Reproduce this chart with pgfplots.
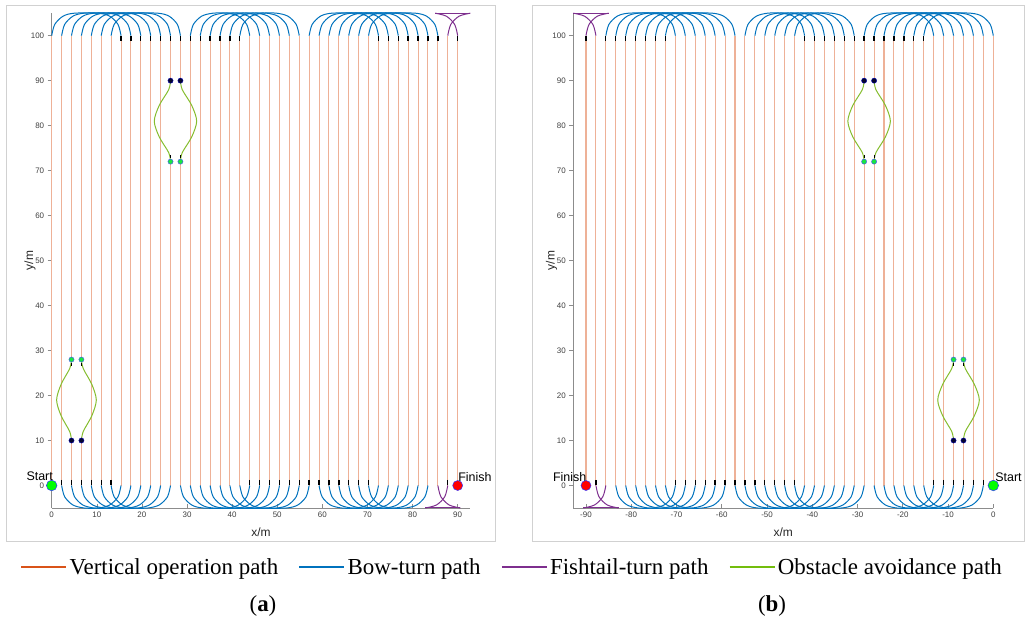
\documentclass[border=0pt]{standalone}
\usepackage{fontspec}
\setmainfont{Liberation Sans}
\newfontfamily\serifL{Liberation Serif}
\usepackage{pgfplots}
\pgfplotsset{compat=1.18}
\usetikzlibrary{plotmarks}
\definecolor{vop}{rgb}{0.85,0.325,0.098}
\definecolor{bow}{rgb}{0,0.447,0.741}
\definecolor{fish}{rgb}{0.494,0.184,0.556}
\definecolor{obs}{rgb}{0.52,0.74,0.18}
\definecolor{obsleg}{rgb}{0.45,0.74,0.05}
\definecolor{darkdot}{rgb}{0.02,0.02,0.18}
\definecolor{greendot}{rgb}{0.1,0.9,0.25}
\pgfplotsset{
  panel/.style={
    scale only axis, height=494.8bp,
    ymin=-5, ymax=105, clip=false,
    axis x line*=bottom, axis y line*=left,
    axis line style={black!45, line width=0.7bp, -},
    ytick={0,10,...,100},
    xtick align=inside, ytick align=outside,
    major tick length=4bp,
    tick style={black!45, line width=0.6bp},
    tick label style={font=\fontsize{8}{9}\selectfont, text=black!75},
    /pgf/number format/assume math mode=true,
    label style={font=\fontsize{12}{14}\selectfont, text=black!85},
    xlabel style={at={(axis description cs:0.5,-0.049)}, anchor=center},
    ylabel style={at={(axis description cs:-0.052,0.5)}, anchor=center, rotate=0},
    xlabel={x/m}, ylabel={y/m},
  },
  vl/.style={vop!45!white, line width=1.05bp, forget plot},
  bowarc/.style={bow, line width=1bp, smooth, forget plot},
  fishp/.style={fish, line width=1bp, smooth, forget plot},
  obsp/.style={obs, line width=1bp, smooth, forget plot},
  exitm/.style={only marks, mark=|, mark size=2.6bp, mark options={black, line width=1.3bp}, forget plot},
  obsm/.style={only marks, mark=|, mark size=1.8bp, mark options={black, line width=1.2bp}, forget plot},
  dd/.style={only marks, mark=*, mark size=2.6bp, mark options={fill=darkdot, draw=blue!70!black, line width=0.4bp}, forget plot},
  gd/.style={only marks, mark=*, mark size=2.6bp, mark options={fill=greendot, draw=blue!70, line width=0.4bp}, forget plot},
  startd/.style={only marks, mark=*, mark size=5.3bp, mark options={fill=green, draw=blue!80, line width=0.5bp}, forget plot},
  finishd/.style={only marks, mark=*, mark size=5bp, mark options={fill=red, draw=blue!80, line width=0.5bp}, forget plot},
}
\begin{document}
\begin{tikzpicture}
\useasboundingbox (0,0) rectangle (1029bp,625bp);
\draw[black!18, line width=0.8bp] (6bp,84bp) rectangle (495bp,620bp);
\draw[black!18, line width=0.8bp] (532.7bp,84bp) rectangle (1024bp,620bp);

% ---------------- panel (a)
\begin{axis}[panel, at={(51.7bp,117bp)}, anchor=south west, width=418.6bp,
  xmin=0, xmax=92.8, xtick={0,10,...,90},
  legend columns=4,
  legend image code/.code={\draw[#1] (0bp,0bp) -- (45bp,0bp);},
  legend style={at={(1.0996,-0.1192)}, anchor=center, draw=none, fill=none,
    font=\serifL\fontsize{23}{27}\selectfont,
    /tikz/every even column/.append style={column sep=18bp}},
  legend cell align=left]
\addlegendimage{vop, line width=2.4bp}\addlegendentry{Vertical operation path}
\addlegendimage{bow, line width=2.4bp}\addlegendentry{Bow-turn path}
\addlegendimage{fish, line width=2.4bp}\addlegendentry{Fishtail-turn path}
\addlegendimage{obsleg, line width=2.4bp}\addlegendentry{Obstacle avoidance path}
% vertical operation lines
\addplot[vl] coordinates {(0,0)(0,100)};
\addplot[vl] coordinates {(2.2,0)(2.2,100)};
\addplot[vl] coordinates {(4.39,0)(4.39,10)};
\addplot[vl] coordinates {(4.39,28)(4.39,100)};
\addplot[vl] coordinates {(6.59,0)(6.59,10)};
\addplot[vl] coordinates {(6.59,28)(6.59,100)};
\addplot[vl] coordinates {(8.78,0)(8.78,100)};
\addplot[vl] coordinates {(10.98,0)(10.98,100)};
\addplot[vl] coordinates {(13.17,0)(13.17,100)};
\addplot[vl] coordinates {(15.37,0)(15.37,100)};
\addplot[vl] coordinates {(17.56,0)(17.56,100)};
\addplot[vl] coordinates {(19.76,0)(19.76,100)};
\addplot[vl] coordinates {(21.95,0)(21.95,100)};
\addplot[vl] coordinates {(24.15,0)(24.15,100)};
\addplot[vl] coordinates {(26.34,0)(26.34,72)};
\addplot[vl] coordinates {(26.34,90)(26.34,100)};
\addplot[vl] coordinates {(28.54,0)(28.54,72)};
\addplot[vl] coordinates {(28.54,90)(28.54,100)};
\addplot[vl] coordinates {(30.73,0)(30.73,100)};
\addplot[vl] coordinates {(32.93,0)(32.93,100)};
\addplot[vl] coordinates {(35.12,0)(35.12,100)};
\addplot[vl] coordinates {(37.32,0)(37.32,100)};
\addplot[vl] coordinates {(39.51,0)(39.51,100)};
\addplot[vl] coordinates {(41.71,0)(41.71,100)};
\addplot[vl] coordinates {(43.9,0)(43.9,100)};
\addplot[vl] coordinates {(46.1,0)(46.1,100)};
\addplot[vl] coordinates {(48.29,0)(48.29,100)};
\addplot[vl] coordinates {(50.49,0)(50.49,100)};
\addplot[vl] coordinates {(52.68,0)(52.68,100)};
\addplot[vl] coordinates {(54.88,0)(54.88,100)};
\addplot[vl] coordinates {(57.07,0)(57.07,100)};
\addplot[vl] coordinates {(59.27,0)(59.27,100)};
\addplot[vl] coordinates {(61.46,0)(61.46,100)};
\addplot[vl] coordinates {(63.66,0)(63.66,100)};
\addplot[vl] coordinates {(65.85,0)(65.85,100)};
\addplot[vl] coordinates {(68.05,0)(68.05,100)};
\addplot[vl] coordinates {(70.24,0)(70.24,100)};
\addplot[vl] coordinates {(72.44,0)(72.44,100)};
\addplot[vl] coordinates {(74.63,0)(74.63,100)};
\addplot[vl] coordinates {(76.83,0)(76.83,100)};
\addplot[vl] coordinates {(79.02,0)(79.02,100)};
\addplot[vl] coordinates {(81.22,0)(81.22,100)};
\addplot[vl] coordinates {(83.41,0)(83.41,100)};
\addplot[vl] coordinates {(85.61,0)(85.61,100)};
\addplot[vl] coordinates {(87.8,0)(87.8,100)};
\addplot[vl] coordinates {(90,0)(90,100)};
% top bow turns
\addplot[bowarc] coordinates {(0,100)(0.67,102.5)(2.5,104.33)(5,105)(10.37,105)(12.87,104.33)(14.7,102.5)(15.37,100)};
\addplot[bowarc] coordinates {(2.2,100)(2.87,102.5)(4.7,104.33)(7.2,105)(12.56,105)(15.06,104.33)(16.89,102.5)(17.56,100)};
\addplot[bowarc] coordinates {(4.39,100)(5.06,102.5)(6.89,104.33)(9.39,105)(14.76,105)(17.26,104.33)(19.09,102.5)(19.76,100)};
\addplot[bowarc] coordinates {(6.59,100)(7.26,102.5)(9.09,104.33)(11.59,105)(16.95,105)(19.45,104.33)(21.28,102.5)(21.95,100)};
\addplot[bowarc] coordinates {(8.78,100)(9.45,102.5)(11.28,104.33)(13.78,105)(19.15,105)(21.65,104.33)(23.48,102.5)(24.15,100)};
\addplot[bowarc] coordinates {(10.98,100)(11.65,102.5)(13.48,104.33)(15.98,105)(21.34,105)(23.84,104.33)(25.67,102.5)(26.34,100)};
\addplot[bowarc] coordinates {(13.17,100)(13.84,102.5)(15.67,104.33)(18.17,105)(23.54,105)(26.04,104.33)(27.87,102.5)(28.54,100)};
\addplot[bowarc] coordinates {(30.73,100)(31.4,102.5)(33.23,104.33)(35.73,105)(38.9,105)(41.4,104.33)(43.23,102.5)(43.9,100)};
\addplot[bowarc] coordinates {(32.93,100)(33.6,102.5)(35.43,104.33)(37.93,105)(41.1,105)(43.6,104.33)(45.43,102.5)(46.1,100)};
\addplot[bowarc] coordinates {(35.12,100)(35.79,102.5)(37.62,104.33)(40.12,105)(43.29,105)(45.79,104.33)(47.62,102.5)(48.29,100)};
\addplot[bowarc] coordinates {(37.32,100)(37.99,102.5)(39.82,104.33)(42.32,105)(45.49,105)(47.99,104.33)(49.82,102.5)(50.49,100)};
\addplot[bowarc] coordinates {(39.51,100)(40.18,102.5)(42.01,104.33)(44.51,105)(47.68,105)(50.18,104.33)(52.01,102.5)(52.68,100)};
\addplot[bowarc] coordinates {(41.71,100)(42.38,102.5)(44.21,104.33)(46.71,105)(49.88,105)(52.38,104.33)(54.21,102.5)(54.88,100)};
\addplot[bowarc] coordinates {(57.07,100)(57.74,102.5)(59.57,104.33)(62.07,105)(67.44,105)(69.94,104.33)(71.77,102.5)(72.44,100)};
\addplot[bowarc] coordinates {(59.27,100)(59.94,102.5)(61.77,104.33)(64.27,105)(69.63,105)(72.13,104.33)(73.96,102.5)(74.63,100)};
\addplot[bowarc] coordinates {(61.46,100)(62.13,102.5)(63.96,104.33)(66.46,105)(71.83,105)(74.33,104.33)(76.16,102.5)(76.83,100)};
\addplot[bowarc] coordinates {(63.66,100)(64.33,102.5)(66.16,104.33)(68.66,105)(74.02,105)(76.52,104.33)(78.35,102.5)(79.02,100)};
\addplot[bowarc] coordinates {(65.85,100)(66.52,102.5)(68.35,104.33)(70.85,105)(76.22,105)(78.72,104.33)(80.55,102.5)(81.22,100)};
\addplot[bowarc] coordinates {(68.05,100)(68.72,102.5)(70.55,104.33)(73.05,105)(78.41,105)(80.91,104.33)(82.74,102.5)(83.41,100)};
\addplot[bowarc] coordinates {(70.24,100)(70.91,102.5)(72.74,104.33)(75.24,105)(80.61,105)(83.11,104.33)(84.94,102.5)(85.61,100)};
% bottom bow turns
\addplot[bowarc] coordinates {(2.2,0)(2.87,-2.5)(4.7,-4.33)(7.2,-5)(10.37,-5)(12.87,-4.33)(14.7,-2.5)(15.37,0)};
\addplot[bowarc] coordinates {(4.39,0)(5.06,-2.5)(6.89,-4.33)(9.39,-5)(12.56,-5)(15.06,-4.33)(16.89,-2.5)(17.56,0)};
\addplot[bowarc] coordinates {(6.59,0)(7.26,-2.5)(9.09,-4.33)(11.59,-5)(14.76,-5)(17.26,-4.33)(19.09,-2.5)(19.76,0)};
\addplot[bowarc] coordinates {(8.78,0)(9.45,-2.5)(11.28,-4.33)(13.78,-5)(16.95,-5)(19.45,-4.33)(21.28,-2.5)(21.95,0)};
\addplot[bowarc] coordinates {(10.98,0)(11.65,-2.5)(13.48,-4.33)(15.98,-5)(19.15,-5)(21.65,-4.33)(23.48,-2.5)(24.15,0)};
\addplot[bowarc] coordinates {(13.17,0)(13.84,-2.5)(15.67,-4.33)(18.17,-5)(21.34,-5)(23.84,-4.33)(25.67,-2.5)(26.34,0)};
\addplot[bowarc] coordinates {(28.54,0)(29.21,-2.5)(31.04,-4.33)(33.54,-5)(38.9,-5)(41.4,-4.33)(43.23,-2.5)(43.9,0)};
\addplot[bowarc] coordinates {(30.73,0)(31.4,-2.5)(33.23,-4.33)(35.73,-5)(41.1,-5)(43.6,-4.33)(45.43,-2.5)(46.1,0)};
\addplot[bowarc] coordinates {(32.93,0)(33.6,-2.5)(35.43,-4.33)(37.93,-5)(43.29,-5)(45.79,-4.33)(47.62,-2.5)(48.29,0)};
\addplot[bowarc] coordinates {(35.12,0)(35.79,-2.5)(37.62,-4.33)(40.12,-5)(45.49,-5)(47.99,-4.33)(49.82,-2.5)(50.49,0)};
\addplot[bowarc] coordinates {(37.32,0)(37.99,-2.5)(39.82,-4.33)(42.32,-5)(47.68,-5)(50.18,-4.33)(52.01,-2.5)(52.68,0)};
\addplot[bowarc] coordinates {(39.51,0)(40.18,-2.5)(42.01,-4.33)(44.51,-5)(49.88,-5)(52.38,-4.33)(54.21,-2.5)(54.88,0)};
\addplot[bowarc] coordinates {(41.71,0)(42.38,-2.5)(44.21,-4.33)(46.71,-5)(52.07,-5)(54.57,-4.33)(56.4,-2.5)(57.07,0)};
\addplot[bowarc] coordinates {(59.27,0)(59.94,-2.5)(61.77,-4.33)(64.27,-5)(67.44,-5)(69.94,-4.33)(71.77,-2.5)(72.44,0)};
\addplot[bowarc] coordinates {(61.46,0)(62.13,-2.5)(63.96,-4.33)(66.46,-5)(69.63,-5)(72.13,-4.33)(73.96,-2.5)(74.63,0)};
\addplot[bowarc] coordinates {(63.66,0)(64.33,-2.5)(66.16,-4.33)(68.66,-5)(71.83,-5)(74.33,-4.33)(76.16,-2.5)(76.83,0)};
\addplot[bowarc] coordinates {(65.85,0)(66.52,-2.5)(68.35,-4.33)(70.85,-5)(74.02,-5)(76.52,-4.33)(78.35,-2.5)(79.02,0)};
\addplot[bowarc] coordinates {(68.05,0)(68.72,-2.5)(70.55,-4.33)(73.05,-5)(76.22,-5)(78.72,-4.33)(80.55,-2.5)(81.22,0)};
\addplot[bowarc] coordinates {(70.24,0)(70.91,-2.5)(72.74,-4.33)(75.24,-5)(78.41,-5)(80.91,-4.33)(82.74,-2.5)(83.41,0)};
% fishtail turns
\addplot[fishp] coordinates {(87.8,100)(88.47,102.5)(90.3,104.33)(92.8,105)};
\addplot[fishp] coordinates {(85,105)(87.5,104.33)(89.33,102.5)(90,100)};
\addplot[fishp] coordinates {(85.61,0)(86.28,-2.5)(88.11,-4.33)(90.61,-5)};
\addplot[fishp] coordinates {(82.8,-5)(85.3,-4.33)(87.13,-2.5)(87.8,0)};
\addplot[fish, line width=1bp, forget plot] coordinates {(85,105)(92.8,105)};
\addplot[fish, line width=1bp, forget plot] coordinates {(82.8,-5)(90.61,-5)};
% obstacle avoidance
\addplot[obsp] coordinates {(4.39,10)(3.99,12)(2.09,15.5)(1.09,19)(2.09,22.5)(3.99,26)(4.39,28)};
\addplot[obsp] coordinates {(6.59,10)(6.99,12)(8.89,15.5)(9.89,19)(8.89,22.5)(6.99,26)(6.59,28)};
\addplot[obsp] coordinates {(26.34,72)(25.94,74)(23.84,77.5)(22.74,81)(23.84,84.5)(25.94,88)(26.34,90)};
\addplot[obsp] coordinates {(28.54,72)(28.94,74)(31.04,77.5)(32.14,81)(31.04,84.5)(28.94,88)(28.54,90)};
% direction marks
\addplot[exitm] coordinates {
(15.37,99.3)(17.56,99.3)(19.76,99.3)(21.95,99.3)(24.15,99.3)(26.34,99.3)(28.54,99.3)
(30.73,99.3)(32.93,99.3)(35.12,99.3)(37.32,99.3)(39.51,99.3)(41.71,99.3)
(72.44,99.3)(74.63,99.3)(76.83,99.3)(79.02,99.3)(81.22,99.3)(83.41,99.3)(85.61,99.3)(90,99.3)
(2.2,0.7)(4.39,0.7)(6.59,0.7)(8.78,0.7)(10.98,0.7)(13.17,0.7)
(43.9,0.7)(46.1,0.7)(48.29,0.7)(50.49,0.7)(52.68,0.7)(54.88,0.7)(57.07,0.7)
(59.27,0.7)(61.46,0.7)(63.66,0.7)(65.85,0.7)(68.05,0.7)(70.24,0.7)(87.8,0.7)
};
\addplot[obsm] coordinates {(4.39,26.9)(6.59,26.9)(26.34,73.1)(28.54,73.1)};
\addplot[dd] coordinates {(4.39,10)(6.59,10)(26.34,90)(28.54,90)};
\addplot[gd] coordinates {(4.39,28)(6.59,28)(26.34,72)(28.54,72)};
\node[anchor=base east, inner sep=0pt, font=\fontsize{12.5}{14}\selectfont] at (axis cs:0.3,1.2) {Start};
\node[anchor=base west, inner sep=0pt, font=\fontsize{12.5}{14}\selectfont] at (axis cs:90.1,1.0) {Finish};
\addplot[startd] coordinates {(0,0)};
\addplot[finishd] coordinates {(90,0)};
\end{axis}

% ---------------- panel (b)
\begin{axis}[panel, at={(573.3bp,117bp)}, anchor=south west, width=420bp,
  xmin=-92.8, xmax=0, xtick={-90,-80,...,0}]
\addplot[vl] coordinates {(0,0)(0,100)};
\addplot[vl] coordinates {(-2.2,0)(-2.2,100)};
\addplot[vl] coordinates {(-4.39,0)(-4.39,100)};
\addplot[vl] coordinates {(-6.59,0)(-6.59,10)};
\addplot[vl] coordinates {(-6.59,28)(-6.59,100)};
\addplot[vl] coordinates {(-8.78,0)(-8.78,10)};
\addplot[vl] coordinates {(-8.78,28)(-8.78,100)};
\addplot[vl] coordinates {(-10.98,0)(-10.98,100)};
\addplot[vl] coordinates {(-13.17,0)(-13.17,100)};
\addplot[vl] coordinates {(-15.37,0)(-15.37,100)};
\addplot[vl] coordinates {(-17.56,0)(-17.56,100)};
\addplot[vl] coordinates {(-19.76,0)(-19.76,100)};
\addplot[vl] coordinates {(-21.95,0)(-21.95,100)};
\addplot[vl] coordinates {(-24.15,0)(-24.15,100)};
\addplot[vl] coordinates {(-26.34,0)(-26.34,72)};
\addplot[vl] coordinates {(-26.34,90)(-26.34,100)};
\addplot[vl] coordinates {(-28.54,0)(-28.54,72)};
\addplot[vl] coordinates {(-28.54,90)(-28.54,100)};
\addplot[vl] coordinates {(-30.73,0)(-30.73,100)};
\addplot[vl] coordinates {(-32.93,0)(-32.93,100)};
\addplot[vl] coordinates {(-35.12,0)(-35.12,100)};
\addplot[vl] coordinates {(-37.32,0)(-37.32,100)};
\addplot[vl] coordinates {(-39.51,0)(-39.51,100)};
\addplot[vl] coordinates {(-41.71,0)(-41.71,100)};
\addplot[vl] coordinates {(-43.9,0)(-43.9,100)};
\addplot[vl] coordinates {(-46.1,0)(-46.1,100)};
\addplot[vl] coordinates {(-48.29,0)(-48.29,100)};
\addplot[vl] coordinates {(-50.49,0)(-50.49,100)};
\addplot[vl] coordinates {(-52.68,0)(-52.68,100)};
\addplot[vl] coordinates {(-54.88,0)(-54.88,100)};
\addplot[vl] coordinates {(-57.07,0)(-57.07,100)};
\addplot[vl] coordinates {(-59.27,0)(-59.27,100)};
\addplot[vl] coordinates {(-61.46,0)(-61.46,100)};
\addplot[vl] coordinates {(-63.66,0)(-63.66,100)};
\addplot[vl] coordinates {(-65.85,0)(-65.85,100)};
\addplot[vl] coordinates {(-68.05,0)(-68.05,100)};
\addplot[vl] coordinates {(-70.24,0)(-70.24,100)};
\addplot[vl] coordinates {(-72.44,0)(-72.44,100)};
\addplot[vl] coordinates {(-74.63,0)(-74.63,100)};
\addplot[vl] coordinates {(-76.83,0)(-76.83,100)};
\addplot[vl] coordinates {(-79.02,0)(-79.02,100)};
\addplot[vl] coordinates {(-81.22,0)(-81.22,100)};
\addplot[vl] coordinates {(-83.41,0)(-83.41,100)};
\addplot[vl] coordinates {(-85.61,0)(-85.61,100)};
\addplot[vl] coordinates {(-87.8,0)(-87.8,100)};
\addplot[vl] coordinates {(-90,0)(-90,100)};
% top bow turns
\addplot[bowarc] coordinates {(0,100)(-0.67,102.5)(-2.5,104.33)(-5,105)(-10.37,105)(-12.87,104.33)(-14.7,102.5)(-15.37,100)};
\addplot[bowarc] coordinates {(-2.2,100)(-2.87,102.5)(-4.7,104.33)(-7.2,105)(-12.56,105)(-15.06,104.33)(-16.89,102.5)(-17.56,100)};
\addplot[bowarc] coordinates {(-4.39,100)(-5.06,102.5)(-6.89,104.33)(-9.39,105)(-14.76,105)(-17.26,104.33)(-19.09,102.5)(-19.76,100)};
\addplot[bowarc] coordinates {(-6.59,100)(-7.26,102.5)(-9.09,104.33)(-11.59,105)(-16.95,105)(-19.45,104.33)(-21.28,102.5)(-21.95,100)};
\addplot[bowarc] coordinates {(-8.78,100)(-9.45,102.5)(-11.28,104.33)(-13.78,105)(-19.15,105)(-21.65,104.33)(-23.48,102.5)(-24.15,100)};
\addplot[bowarc] coordinates {(-10.98,100)(-11.65,102.5)(-13.48,104.33)(-15.98,105)(-21.34,105)(-23.84,104.33)(-25.67,102.5)(-26.34,100)};
\addplot[bowarc] coordinates {(-13.17,100)(-13.84,102.5)(-15.67,104.33)(-18.17,105)(-23.54,105)(-26.04,104.33)(-27.87,102.5)(-28.54,100)};
\addplot[bowarc] coordinates {(-30.73,100)(-31.4,102.5)(-33.23,104.33)(-35.73,105)(-38.9,105)(-41.4,104.33)(-43.23,102.5)(-43.9,100)};
\addplot[bowarc] coordinates {(-32.93,100)(-33.6,102.5)(-35.43,104.33)(-37.93,105)(-41.1,105)(-43.6,104.33)(-45.43,102.5)(-46.1,100)};
\addplot[bowarc] coordinates {(-35.12,100)(-35.79,102.5)(-37.62,104.33)(-40.12,105)(-43.29,105)(-45.79,104.33)(-47.62,102.5)(-48.29,100)};
\addplot[bowarc] coordinates {(-37.32,100)(-37.99,102.5)(-39.82,104.33)(-42.32,105)(-45.49,105)(-47.99,104.33)(-49.82,102.5)(-50.49,100)};
\addplot[bowarc] coordinates {(-39.51,100)(-40.18,102.5)(-42.01,104.33)(-44.51,105)(-47.68,105)(-50.18,104.33)(-52.01,102.5)(-52.68,100)};
\addplot[bowarc] coordinates {(-41.71,100)(-42.38,102.5)(-44.21,104.33)(-46.71,105)(-49.88,105)(-52.38,104.33)(-54.21,102.5)(-54.88,100)};
\addplot[bowarc] coordinates {(-57.07,100)(-57.74,102.5)(-59.57,104.33)(-62.07,105)(-67.44,105)(-69.94,104.33)(-71.77,102.5)(-72.44,100)};
\addplot[bowarc] coordinates {(-59.27,100)(-59.94,102.5)(-61.77,104.33)(-64.27,105)(-69.63,105)(-72.13,104.33)(-73.96,102.5)(-74.63,100)};
\addplot[bowarc] coordinates {(-61.46,100)(-62.13,102.5)(-63.96,104.33)(-66.46,105)(-71.83,105)(-74.33,104.33)(-76.16,102.5)(-76.83,100)};
\addplot[bowarc] coordinates {(-63.66,100)(-64.33,102.5)(-66.16,104.33)(-68.66,105)(-74.02,105)(-76.52,104.33)(-78.35,102.5)(-79.02,100)};
\addplot[bowarc] coordinates {(-65.85,100)(-66.52,102.5)(-68.35,104.33)(-70.85,105)(-76.22,105)(-78.72,104.33)(-80.55,102.5)(-81.22,100)};
\addplot[bowarc] coordinates {(-68.05,100)(-68.72,102.5)(-70.55,104.33)(-73.05,105)(-78.41,105)(-80.91,104.33)(-82.74,102.5)(-83.41,100)};
\addplot[bowarc] coordinates {(-70.24,100)(-70.91,102.5)(-72.74,104.33)(-75.24,105)(-80.61,105)(-83.11,104.33)(-84.94,102.5)(-85.61,100)};
% bottom bow turns
\addplot[bowarc] coordinates {(-2.2,0)(-2.87,-2.5)(-4.7,-4.33)(-7.2,-5)(-10.37,-5)(-12.87,-4.33)(-14.7,-2.5)(-15.37,0)};
\addplot[bowarc] coordinates {(-4.39,0)(-5.06,-2.5)(-6.89,-4.33)(-9.39,-5)(-12.56,-5)(-15.06,-4.33)(-16.89,-2.5)(-17.56,0)};
\addplot[bowarc] coordinates {(-6.59,0)(-7.26,-2.5)(-9.09,-4.33)(-11.59,-5)(-14.76,-5)(-17.26,-4.33)(-19.09,-2.5)(-19.76,0)};
\addplot[bowarc] coordinates {(-8.78,0)(-9.45,-2.5)(-11.28,-4.33)(-13.78,-5)(-16.95,-5)(-19.45,-4.33)(-21.28,-2.5)(-21.95,0)};
\addplot[bowarc] coordinates {(-10.98,0)(-11.65,-2.5)(-13.48,-4.33)(-15.98,-5)(-19.15,-5)(-21.65,-4.33)(-23.48,-2.5)(-24.15,0)};
\addplot[bowarc] coordinates {(-13.17,0)(-13.84,-2.5)(-15.67,-4.33)(-18.17,-5)(-21.34,-5)(-23.84,-4.33)(-25.67,-2.5)(-26.34,0)};
\addplot[bowarc] coordinates {(-28.54,0)(-29.21,-2.5)(-31.04,-4.33)(-33.54,-5)(-38.9,-5)(-41.4,-4.33)(-43.23,-2.5)(-43.9,0)};
\addplot[bowarc] coordinates {(-30.73,0)(-31.4,-2.5)(-33.23,-4.33)(-35.73,-5)(-41.1,-5)(-43.6,-4.33)(-45.43,-2.5)(-46.1,0)};
\addplot[bowarc] coordinates {(-32.93,0)(-33.6,-2.5)(-35.43,-4.33)(-37.93,-5)(-43.29,-5)(-45.79,-4.33)(-47.62,-2.5)(-48.29,0)};
\addplot[bowarc] coordinates {(-35.12,0)(-35.79,-2.5)(-37.62,-4.33)(-40.12,-5)(-45.49,-5)(-47.99,-4.33)(-49.82,-2.5)(-50.49,0)};
\addplot[bowarc] coordinates {(-37.32,0)(-37.99,-2.5)(-39.82,-4.33)(-42.32,-5)(-47.68,-5)(-50.18,-4.33)(-52.01,-2.5)(-52.68,0)};
\addplot[bowarc] coordinates {(-39.51,0)(-40.18,-2.5)(-42.01,-4.33)(-44.51,-5)(-49.88,-5)(-52.38,-4.33)(-54.21,-2.5)(-54.88,0)};
\addplot[bowarc] coordinates {(-41.71,0)(-42.38,-2.5)(-44.21,-4.33)(-46.71,-5)(-52.07,-5)(-54.57,-4.33)(-56.4,-2.5)(-57.07,0)};
\addplot[bowarc] coordinates {(-59.27,0)(-59.94,-2.5)(-61.77,-4.33)(-64.27,-5)(-67.44,-5)(-69.94,-4.33)(-71.77,-2.5)(-72.44,0)};
\addplot[bowarc] coordinates {(-61.46,0)(-62.13,-2.5)(-63.96,-4.33)(-66.46,-5)(-69.63,-5)(-72.13,-4.33)(-73.96,-2.5)(-74.63,0)};
\addplot[bowarc] coordinates {(-63.66,0)(-64.33,-2.5)(-66.16,-4.33)(-68.66,-5)(-71.83,-5)(-74.33,-4.33)(-76.16,-2.5)(-76.83,0)};
\addplot[bowarc] coordinates {(-65.85,0)(-66.52,-2.5)(-68.35,-4.33)(-70.85,-5)(-74.02,-5)(-76.52,-4.33)(-78.35,-2.5)(-79.02,0)};
\addplot[bowarc] coordinates {(-68.05,0)(-68.72,-2.5)(-70.55,-4.33)(-73.05,-5)(-76.22,-5)(-78.72,-4.33)(-80.55,-2.5)(-81.22,0)};
\addplot[bowarc] coordinates {(-70.24,0)(-70.91,-2.5)(-72.74,-4.33)(-75.24,-5)(-78.41,-5)(-80.91,-4.33)(-82.74,-2.5)(-83.41,0)};
\addplot[fishp] coordinates {(-87.8,100)(-88.47,102.5)(-90.3,104.33)(-92.8,105)};
\addplot[fishp] coordinates {(-85,105)(-87.5,104.33)(-89.33,102.5)(-90,100)};
\addplot[fishp] coordinates {(-85.61,0)(-86.28,-2.5)(-88.11,-4.33)(-90.61,-5)};
\addplot[fishp] coordinates {(-82.8,-5)(-85.3,-4.33)(-87.13,-2.5)(-87.8,0)};
\addplot[fish, line width=1bp, forget plot] coordinates {(-85,105)(-92.8,105)};
\addplot[fish, line width=1bp, forget plot] coordinates {(-82.8,-5)(-90.61,-5)};
\addplot[obsp] coordinates {(-8.78,10)(-9.18,12)(-11.18,15.5)(-12.28,19)(-11.18,22.5)(-9.18,26)(-8.78,28)};
\addplot[obsp] coordinates {(-6.59,10)(-6.19,12)(-4.19,15.5)(-3.09,19)(-4.19,22.5)(-6.19,26)(-6.59,28)};
\addplot[obsp] coordinates {(-28.54,72)(-28.94,74)(-31.04,77.5)(-32.14,81)(-31.04,84.5)(-28.94,88)(-28.54,90)};
\addplot[obsp] coordinates {(-26.34,72)(-25.94,74)(-23.84,77.5)(-22.74,81)(-23.84,84.5)(-25.94,88)(-26.34,90)};
\addplot[exitm] coordinates {
(-15.37,99.3)(-17.56,99.3)(-19.76,99.3)(-21.95,99.3)(-24.15,99.3)(-26.34,99.3)(-28.54,99.3)
(-30.73,99.3)(-32.93,99.3)(-35.12,99.3)(-37.32,99.3)(-39.51,99.3)(-41.71,99.3)
(-72.44,99.3)(-74.63,99.3)(-76.83,99.3)(-79.02,99.3)(-81.22,99.3)(-83.41,99.3)(-85.61,99.3)(-90,99.3)
(-2.2,0.7)(-4.39,0.7)(-6.59,0.7)(-8.78,0.7)(-10.98,0.7)(-13.17,0.7)
(-43.9,0.7)(-46.1,0.7)(-48.29,0.7)(-50.49,0.7)(-52.68,0.7)(-54.88,0.7)(-57.07,0.7)
(-59.27,0.7)(-61.46,0.7)(-63.66,0.7)(-65.85,0.7)(-68.05,0.7)(-70.24,0.7)(-87.8,0.7)
};
\addplot[obsm] coordinates {(-8.78,26.9)(-6.59,26.9)(-26.34,73.1)(-28.54,73.1)};
\addplot[dd] coordinates {(-8.78,10)(-6.59,10)(-26.34,90)(-28.54,90)};
\addplot[gd] coordinates {(-8.78,28)(-6.59,28)(-26.34,72)(-28.54,72)};
\node[anchor=base east, inner sep=0pt, font=\fontsize{12.5}{14}\selectfont] at (axis cs:-89.9,1.0) {Finish};
\node[anchor=base west, inner sep=0pt, font=\fontsize{12.5}{14}\selectfont] at (axis cs:0.4,1.0) {Start};
\addplot[startd] coordinates {(0,0)};
\addplot[finishd] coordinates {(-90,0)};
\end{axis}

\node[font=\serifL\fontsize{23}{27}\selectfont] at (263bp,19bp) {(\textbf{a})};
\node[font=\serifL\fontsize{23}{27}\selectfont] at (772bp,19bp) {(\textbf{b})};
\end{tikzpicture}
\end{document}
